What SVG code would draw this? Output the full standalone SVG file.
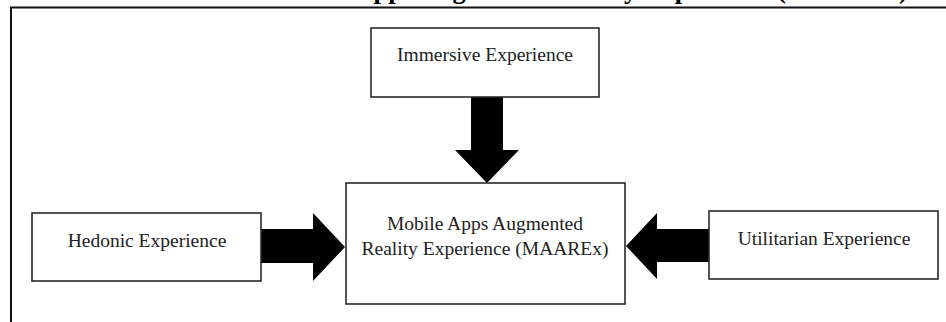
<svg xmlns="http://www.w3.org/2000/svg" width="946" height="322" viewBox="0 0 946 322">
<style>
.box{fill:#fff;stroke:#2a2a2a;stroke-width:1.6}
.lbl{font-family:"Liberation Serif","Times New Roman",serif;font-size:19.5px;fill:#222;text-anchor:middle}
.title{font-family:"Liberation Serif","Times New Roman",serif;font-size:26.5px;font-weight:bold;fill:#000;text-anchor:end}
.arr{fill:#000}
.frame{fill:none;stroke:#111;stroke-width:2}
</style>
<rect width="946" height="322" fill="#fff"/>
<text class="title" x="908" y="-2">Mobile Apps Augmented Reality Experience (MAAREx)</text>
<path class="frame" d="M11,322 V7.5 H946"/>
<g id="connectors">
<polygon class="arr" points="261,229 313,229 313,213 345,247 313,281 313,263 261,263"/>
<polygon class="arr" points="471,96 503,96 503,150 519,150 487,183 455,150 471,150"/>
<polygon class="arr" points="709,229 657,229 657,213 626,246 657,279 657,262 709,262"/>
</g>
<g id="immersive">
<rect class="box" x="371" y="28" width="228" height="69"/>
<text class="lbl" x="485" y="61">Immersive Experience</text>
</g>
<g id="hedonic">
<rect class="box" x="32" y="213" width="229" height="68"/>
<text class="lbl" x="147" y="247">Hedonic Experience</text>
</g>
<g id="maarex">
<rect class="box" x="346" y="183" width="279" height="121"/>
<text class="lbl" x="485" y="230">Mobile Apps Augmented</text>
<text class="lbl" x="485" y="255">Reality Experience (MAAREx)</text>
</g>
<g id="utilitarian">
<rect class="box" x="709" y="211" width="229" height="68"/>
<text class="lbl" x="824" y="245">Utilitarian Experience</text>
</g>
</svg>
